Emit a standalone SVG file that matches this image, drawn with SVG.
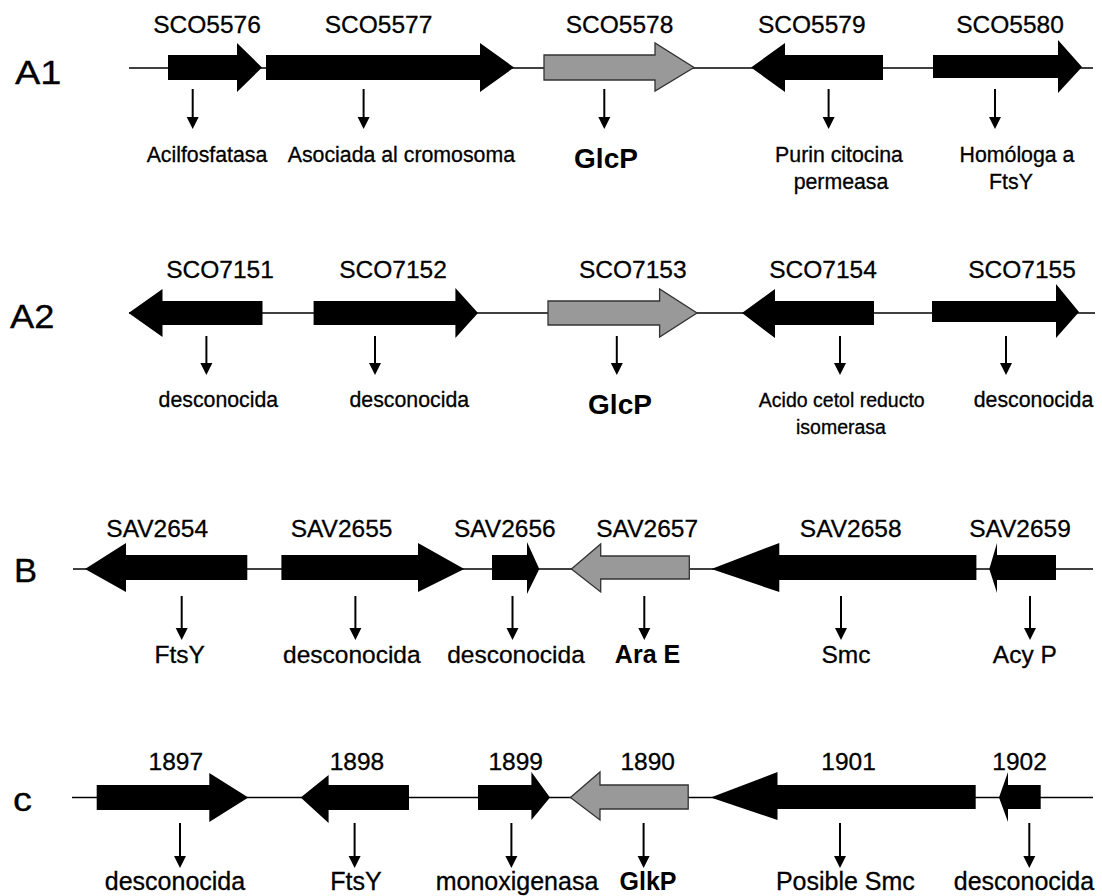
<svg xmlns="http://www.w3.org/2000/svg" width="1102" height="896" viewBox="0 0 1102 896">
<style>
text{font-family:"Liberation Sans",Arial,sans-serif;fill:#000;stroke:#000;stroke-width:0.3;text-anchor:middle}
.row{font-size:33px;text-anchor:start}
.g{font-size:24.5px}
.a{font-size:21.3px}
.a2{font-size:19.5px}
.ab{font-size:24.5px}
.ac{font-size:25px}
.b{font-weight:bold;stroke-width:0}
.gene{fill:#000}
.grey{fill:#999999;stroke:#333333;stroke-width:1.3}
.bb{stroke:#000;stroke-width:1.3;fill:none}
.da{stroke:#000;stroke-width:2;fill:none;marker-end:url(#ah)}
</style>
<defs>
<marker id="ah" markerUnits="userSpaceOnUse" markerWidth="12" markerHeight="13" refX="8" refY="6" orient="auto" viewBox="0 0 12 12">
<path d="M0,0 L12,6 L0,12 z" fill="#000"/>
</marker>
</defs>
<rect width="1102" height="896" fill="#fff"/>

<!-- row labels -->
<text class="row" transform="translate(15,84) scale(1.15,1)">A1</text>
<text class="row" transform="translate(10,328) scale(1.1,1)">A2</text>
<text class="row" transform="translate(14,582) scale(1.05,1)" font-size="31">B</text>
<text class="row" transform="translate(13,811) scale(1.15,1)" font-size="31">c</text>

<!-- backbones -->
<g id="backbones">
<line class="bb" x1="129" y1="68" x2="1093" y2="68"/>
<line class="bb" x1="129" y1="313" x2="1095" y2="313"/>
<line class="bb" x1="73" y1="569" x2="1093" y2="569"/>
<line class="bb" x1="72" y1="797.5" x2="1093" y2="797.5"/>
</g>

<!-- Row A1 -->
<g id="SCO5576">
<polygon class="gene" points="168,55 237,55 237,43 262,67.5 237,92 237,80 168,80"/>
<text class="g" x="207" y="33">SCO5576</text>
<text class="a" x="207" y="162">Acilfosfatasa</text>
</g>
<g id="SCO5577">
<polygon class="gene" points="266,55 480,55 480,43 514,67.5 480,92 480,80 266,80"/>
<text class="g" x="378.6" y="33">SCO5577</text>
<text class="a" x="401.4" y="162">Asociada al cromosoma</text>
</g>
<g id="SCO5578">
<polygon class="grey" points="544,55 655,55 655,43 694,67.5 655,91 655,80 544,80"/>
<text class="g" x="619.6" y="33">SCO5578</text>
<text class="b" font-size="28" x="606" y="168">GlcP</text>
</g>
<g id="SCO5579">
<polygon class="gene" points="751,67.5 785,43 785,55 883,55 883,80 785,80 785,92"/>
<text class="g" x="811.8" y="33">SCO5579</text>
<text class="a" x="839" y="162">Purin citocina</text>
<text class="a" x="841" y="189">permeasa</text>
</g>
<g id="SCO5580">
<polygon class="gene" points="933,55 1058,55 1058,40 1082,67 1058,93 1058,78 933,78"/>
<text class="g" x="1010" y="33">SCO5580</text>
<text class="a" x="1017" y="162">Homóloga a</text>
<text class="a" x="1011" y="189">FtsY</text>
</g>

<!-- Row A2 -->
<g id="SCO7151">
<polygon class="gene" points="128.6,313 162.5,289 162.5,301 262.5,301 262.5,325 162.5,325 162.5,337"/>
<text class="g" x="220" y="278">SCO7151</text>
<text class="a" x="218.4" y="407">desconocida</text>
</g>
<g id="SCO7152">
<polygon class="gene" points="313.6,301 455.4,301 455.4,288 478,313 455.4,338 455.4,325 313.6,325"/>
<text class="g" x="393" y="278">SCO7152</text>
<text class="a" x="409.3" y="407">desconocida</text>
</g>
<g id="SCO7153">
<polygon class="grey" points="548,301 659.6,301 659.6,289 697,313 659.6,337 659.6,325 548,325"/>
<text class="g" x="632.8" y="278">SCO7153</text>
<text class="b" font-size="28" x="620" y="414">GlcP</text>
</g>
<g id="SCO7154">
<polygon class="gene" points="742,313 775,289 775,301 874,301 874,325 775,325 775,338"/>
<text class="g" x="823" y="278">SCO7154</text>
<text class="a2" x="841.8" y="407">Acido cetol reducto</text>
<text class="a2" x="841" y="434">isomerasa</text>
</g>
<g id="SCO7155">
<polygon class="gene" points="932,301 1056,301 1056,284 1079,312 1056,338 1056,322 932,322"/>
<text class="g" x="1022" y="278">SCO7155</text>
<text class="a" x="1033.5" y="407">desconocida</text>
</g>

<!-- Row B -->
<g id="SAV2654">
<polygon class="gene" points="85,569 126,543 126,555 247.3,555 247.3,580 126,580 126,592"/>
<text class="g" x="157.2" y="537">SAV2654</text>
<text class="ab" x="179.7" y="663">FtsY</text>
</g>
<g id="SAV2655">
<polygon class="gene" points="281.4,555 418,555 418,543 464.3,569 418,592 418,580 281.4,580"/>
<text class="g" x="341.6" y="537">SAV2655</text>
<text class="ab" x="351.8" y="663">desconocida</text>
</g>
<g id="SAV2656">
<polygon class="gene" points="492,555 527,555 527,542 539.3,569 527,594 527,580 492,580"/>
<text class="g" x="504.8" y="537">SAV2656</text>
<text class="ab" x="516" y="663">desconocida</text>
</g>
<g id="SAV2657">
<polygon class="grey" points="571.4,569 600.7,544 600.7,556 689.3,556 689.3,579 600.7,579 600.7,592"/>
<text class="g" x="647.2" y="537">SAV2657</text>
<text class="b" font-size="25" x="647.5" y="663">Ara E</text>
</g>
<g id="SAV2658">
<polygon class="gene" points="711.4,569 779.3,543 779.3,555 976.4,555 976.4,580 779.3,580 779.3,592"/>
<text class="g" x="850.7" y="537">SAV2658</text>
<text class="ab" x="846" y="663">Smc</text>
</g>
<g id="SAV2659">
<polygon class="gene" points="989.3,569 997,543 997,555 1056,555 1056,580 997,580 997,593"/>
<text class="g" x="1020" y="537">SAV2659</text>
<text class="ab" x="1024.8" y="663">Acy P</text>
</g>

<!-- Row C -->
<g id="g1897">
<polygon class="gene" points="96.7,785 209.3,785 209.3,773 248.3,797.5 209.3,822 209.3,810 96.7,810"/>
<text class="g" x="175.8" y="770">1897</text>
<text class="ac" x="175" y="890">desconocida</text>
</g>
<g id="g1898">
<polygon class="gene" points="300.7,797.5 328.6,775 328.6,785 409,785 409,810 328.6,810 328.6,823"/>
<text class="g" x="357" y="770">1898</text>
<text class="ac" x="356" y="890">FtsY</text>
</g>
<g id="g1899">
<polygon class="gene" points="478,785 531.4,785 531.4,772 550,797.5 531.4,820 531.4,810 478,810"/>
<text class="g" x="515.7" y="770">1899</text>
<text class="ac" x="517" y="890">monoxigenasa</text>
</g>
<g id="g1890">
<polygon class="grey" points="570.4,797.5 600,772 600,785 688.2,785 688.2,809 600,809 600,820"/>
<text class="g" x="647.7" y="770">1890</text>
<text class="b" font-size="25" x="648" y="890">GlkP</text>
</g>
<g id="g1901">
<polygon class="gene" points="710.7,797.5 777.5,772 777.5,785 975.7,785 975.7,809 777.5,809 777.5,820"/>
<text class="g" x="848.6" y="770">1901</text>
<text class="ac" x="845.4" y="890">Posible Smc</text>
</g>
<g id="g1902">
<polygon class="gene" points="999,797.5 1008,772 1008,785 1040.7,785 1040.7,809 1008,809 1008,822"/>
<text class="g" x="1019.6" y="770">1902</text>
<text class="ac" x="1024" y="890">desconocida</text>
</g>

<!-- connectors: gene to annotation arrows -->
<g id="connectors">
<line class="da" x1="192.7" y1="89" x2="192.7" y2="125"/>
<line class="da" x1="363.6" y1="89" x2="363.6" y2="125"/>
<line class="da" x1="604.3" y1="89" x2="604.3" y2="125"/>
<line class="da" x1="828.6" y1="89" x2="828.6" y2="125"/>
<line class="da" x1="995" y1="89" x2="995" y2="125"/>

<line class="da" x1="206.4" y1="336" x2="206.4" y2="371"/>
<line class="da" x1="375" y1="336" x2="375" y2="371"/>
<line class="da" x1="616.8" y1="336" x2="616.8" y2="371"/>
<line class="da" x1="840" y1="336" x2="840" y2="371"/>
<line class="da" x1="1006" y1="336" x2="1006" y2="371"/>

<line class="da" x1="181.7" y1="596" x2="181.7" y2="636"/>
<line class="da" x1="355.4" y1="596" x2="355.4" y2="636"/>
<line class="da" x1="512.5" y1="596" x2="512.5" y2="636"/>
<line class="da" x1="644.3" y1="596" x2="644.3" y2="636"/>
<line class="da" x1="841" y1="596" x2="841" y2="636"/>
<line class="da" x1="1030" y1="596" x2="1030" y2="636"/>

<line class="da" x1="180" y1="823" x2="180" y2="864"/>
<line class="da" x1="354.6" y1="823" x2="354.6" y2="864"/>
<line class="da" x1="511.4" y1="823" x2="511.4" y2="864"/>
<line class="da" x1="643.6" y1="823" x2="643.6" y2="864"/>
<line class="da" x1="840" y1="823" x2="840" y2="864"/>
<line class="da" x1="1029.3" y1="823" x2="1029.3" y2="864"/>
</g>
</svg>
